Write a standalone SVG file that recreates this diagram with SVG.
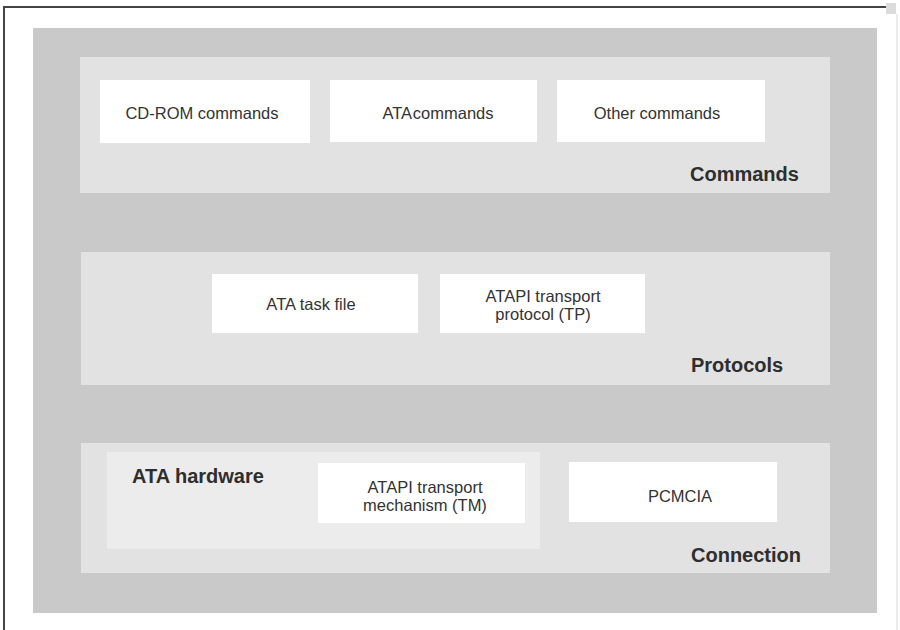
<svg xmlns="http://www.w3.org/2000/svg" width="900" height="630" viewBox="0 0 900 630">
  <style>
    .band { fill: #c9c9c9; }
    .layer { fill: #e2e2e2; }
    .sub { fill: #ececec; }
    .box { fill: #ffffff; }
    .lbl { font-family: "Liberation Sans", Arial, sans-serif; font-size: 16.5px; fill: #333333; text-anchor: middle; }
    .title { font-family: "Liberation Sans", Arial, sans-serif; font-size: 20px; font-weight: bold; fill: #2e2e2e; }
    .frame { stroke: #444444; stroke-width: 2; fill: none; }
  </style>

  <rect width="900" height="630" fill="#ffffff"/>

  <!-- page frame -->
  <path class="frame" d="M4,630 V7 H886"/>
  <line x1="897" y1="14" x2="897" y2="630" stroke="#e4e4e4" stroke-width="1.5"/>
  <rect x="886" y="3" width="10" height="11" fill="#dcdcdc"/>

  <!-- outer grey band holding the three layers -->
  <rect class="band" x="33" y="28" width="844" height="585"/>

  <!-- Commands layer -->
  <g id="commands">
    <rect class="layer" x="80" y="57" width="750" height="136"/>
    <g id="cdrom-commands">
      <rect class="box" x="100" y="80" width="210" height="63"/>
      <text class="lbl" x="202" y="119">CD-ROM commands</text>
    </g>
    <g id="ata-commands">
      <rect class="box" x="330" y="80" width="207" height="62"/>
      <text class="lbl" x="438" y="119" word-spacing="-3">ATA commands</text>
    </g>
    <g id="other-commands">
      <rect class="box" x="557" y="80" width="208" height="62"/>
      <text class="lbl" x="657" y="119">Other commands</text>
    </g>
    <text class="title" x="690" y="181">Commands</text>
  </g>

  <!-- Protocols layer -->
  <g id="protocols">
    <rect class="layer" x="81" y="252" width="749" height="133"/>
    <g id="ata-task-file">
      <rect class="box" x="212" y="274" width="206" height="59"/>
      <text class="lbl" x="311" y="310">ATA task file</text>
    </g>
    <g id="atapi-tp">
      <rect class="box" x="440" y="274" width="205" height="59"/>
      <text class="lbl" x="543" y="302">ATAPI transport</text>
      <text class="lbl" x="543" y="320">protocol (TP)</text>
    </g>
    <text class="title" x="691" y="372">Protocols</text>
  </g>

  <!-- Connection layer -->
  <g id="connection">
    <rect class="layer" x="81" y="443" width="749" height="130"/>
    <g id="ata-hardware">
      <rect class="sub" x="107" y="452" width="433" height="97"/>
      <text class="title" x="132" y="483">ATA hardware</text>
      <g id="atapi-tm">
        <rect class="box" x="318" y="463" width="207" height="60"/>
        <text class="lbl" x="425" y="493">ATAPI transport</text>
        <text class="lbl" x="425" y="511">mechanism (TM)</text>
      </g>
    </g>
    <g id="pcmcia">
      <rect class="box" x="569" y="462" width="208" height="60"/>
      <text class="lbl" x="680" y="502">PCMCIA</text>
    </g>
    <text class="title" x="691" y="562">Connection</text>
  </g>

  <!-- no connectors in this figure -->
  <g id="connectors"/>
</svg>
